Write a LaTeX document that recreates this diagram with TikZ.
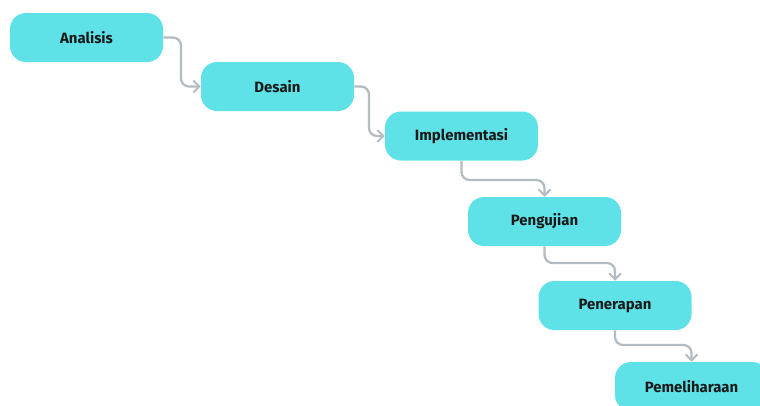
\documentclass[tikz,border=0pt]{standalone}
\usepackage{fontspec}
\setmainfont{Fira Sans}
\usetikzlibrary{arrows.meta}
\definecolor{boxc}{HTML}{5EE2E7}
\definecolor{linec}{HTML}{B3BCC3}
\tikzset{
  stage/.style={fill=boxc, rounded corners=12pt, minimum width=153*0.75pt, minimum height=49*0.75pt, inner sep=0pt, font=\bfseries\fontsize{11.2}{13}\selectfont, text=black!90},
  flow/.style={draw=linec, line width=1.7pt, rounded corners=6pt, -{Straight Barb[length=4.5pt, width=9pt, line width=1.5pt]}}
}
\begin{document}
\begin{tikzpicture}[x=0.75pt, y=-0.75pt]
\useasboundingbox (0,0) rectangle (760,405);
\begin{scope}
\clip (0,0) rectangle (760,405);
\node[stage] (a) at (86.5,37.5) {Analisis};
\node[stage] (d) at (277.5,86.5) {Desain};
\node[stage] (i) at (461.5,136) {Implementasi};
\node[stage] (p) at (544.5,221.5) {Pengujian};
\node[stage] (r) at (615,305.5) {Penerapan};
\node[stage] (m) at (691.5,386.5) {Pemeliharaan};
\end{scope}
\draw[flow] (a.east) -| (181,61) |- (d.west);
\draw[flow] (d.east) -| (369,110) |- (i.west);
\draw[flow] (i.south) |- (500,180) -| (p.north);
\draw[flow] (p.south) |- (580,263) -| (r.north);
\draw[flow] (r.south) |- (650,345) -| (m.north);
\end{tikzpicture}
\end{document}
